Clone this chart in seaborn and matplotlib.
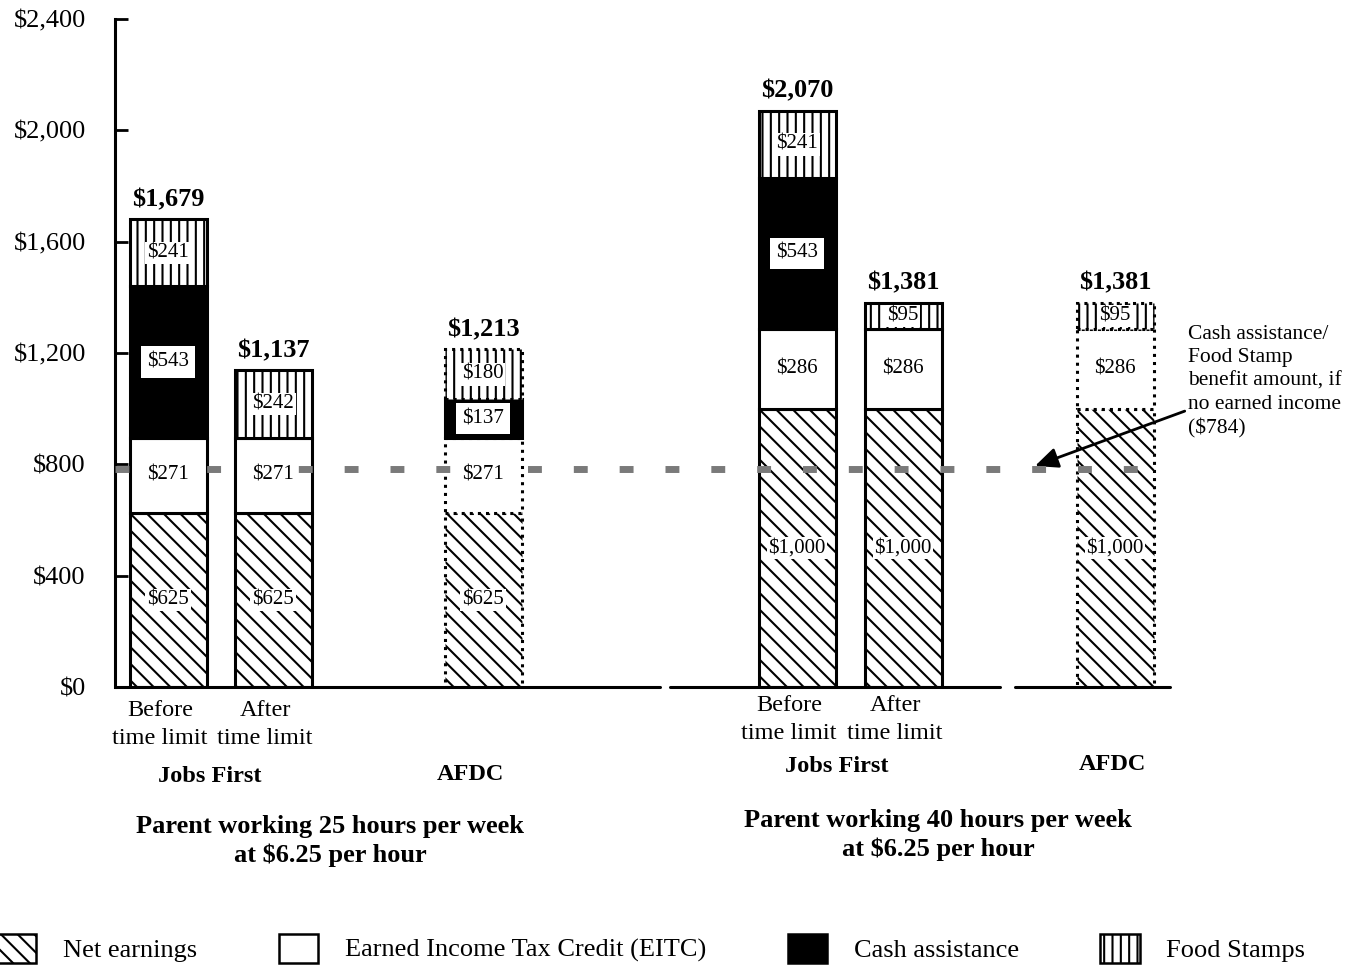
import numpy as np
import matplotlib
matplotlib.use("Agg")
import matplotlib.pyplot as plt
import matplotlib.patches as mpatches
import seaborn as sns

# monthly income by component, one entry per bar
bar_names = ["Before\ntime limit", "After\ntime limit", "", "Before\ntime limit", "After\ntime limit", ""]
net_earnings = [625, 625, 625, 1000, 1000, 1000]
eitc = [271, 271, 271, 286, 286, 286]
cash_assistance = [543, 0, 137, 543, 0, 0]
food_stamps = [241, 242, 180, 241, 95, 95]
totals = [1679, 1137, 1213, 2070, 1381, 1381]
is_afdc = [False, False, True, False, False, True]
no_income_benefit = 784

yticks = [0, 400, 800, 1200, 1600, 2000, 2400]

sns.set_theme(style="ticks")
plt.rcParams["font.family"] = ["Liberation Serif", "DejaVu Serif"]
plt.rcParams["hatch.linewidth"] = 1.5
for k in ["text.color", "axes.labelcolor", "xtick.color", "ytick.color", "axes.edgecolor"]:
    plt.rcParams[k] = "black"

W, H = 1362, 967
fig = plt.figure(figsize=(W / 100, H / 100), dpi=100)
ax = fig.add_axes([115 / W, 1 - 687 / H, (W - 115) / W, (687 - 19) / H])

positions = [53, 158, 368, 682, 788, 1000]
width = 77


def fmt(v):
    return f"${v:,.0f}"


layers = [
    ("Net earnings", net_earnings, "white", "\\\\"),
    ("Earned Income Tax Credit (EITC)", eitc, "white", ""),
    ("Cash assistance", cash_assistance, "black", ""),
    ("Food Stamps", food_stamps, "white", "||"),
]

bottom = np.zeros(len(positions))
for name, vals, color, hatch in layers:
    vals = np.array(vals, dtype=float)
    for i, (x, v) in enumerate(zip(positions, vals)):
        if v <= 0:
            continue
        ls = ":" if (is_afdc[i] and color != "black") else "-"
        ax.bar(x, v, width=width, bottom=bottom[i], color=color, hatch=hatch,
               edgecolor="black", linewidth=2.2, linestyle=ls, zorder=2)
        pad = 0.3 if color == "black" else 0.08
        ax.text(x, bottom[i] + v / 2, fmt(v), ha="center", va="center",
                fontsize=15, zorder=5,
                bbox=dict(boxstyle=f"square,pad={pad}", fc="white", ec="none"))
    bottom += vals

for x, t in zip(positions, totals):
    ax.text(x, t + 30, fmt(t), ha="center", va="bottom", fontsize=19,
            fontweight="bold")

# benefit level with no earned income
ax.axhline(no_income_benefit, xmin=0, xmax=1040 / 1247, color="#7a7a7a",
           linewidth=5, linestyle=(0, (2, 4.6)), zorder=4)
ax.annotate("Cash assistance/\nFood Stamp\nbenefit amount, if\nno earned income\n($784)",
            xy=(920, no_income_benefit + 10), xytext=(1073, 1300),
            ha="left", va="top", fontsize=15.5, linespacing=1.3,
            arrowprops=dict(arrowstyle="-|>,head_length=0.9,head_width=0.4",
                            color="black", lw=2, shrinkA=0, shrinkB=0))

ax.set_xlim(0, W - 115)
ax.set_ylim(0, 2400)
ax.set_yticks(yticks)
ax.set_yticklabels([fmt(v) for v in yticks], fontsize=19)
ax.set_xticks([])
ax.tick_params(axis="y", direction="in", length=9, width=2, pad=21)
sns.despine(ax=ax, top=True, right=True, bottom=True)
ax.spines["left"].set_linewidth(2.2)

# broken baseline
for x0, x1 in [(0, 545), (555, 885), (900, 1055)]:
    ax.plot([x0, x1], [0, 0], color="black", lw=2.2, clip_on=False, zorder=3)

# category labels under the bars
for i, (x, name) in enumerate(zip(positions, bar_names)):
    if name:
        top = 700 if i < 3 else 695
        fig.text((x + 115 - 8) / W, 1 - top / H, name, ha="center", va="top",
                 fontsize=17.5, linespacing=1.45)

group_labels = [
    (210, 777, "Jobs First"), (470, 775, "AFDC"),
    (837, 767, "Jobs First"), (1112, 765, "AFDC"),
]
for x, y, s in group_labels:
    fig.text(x / W, 1 - y / H, s, ha="center", va="center", fontsize=17.5,
             fontweight="bold")

panel_titles = [
    (330, 841, "Parent working 25 hours per week\nat $6.25 per hour"),
    (938, 835, "Parent working 40 hours per week\nat $6.25 per hour"),
]
for x, y, s in panel_titles:
    fig.text(x / W, 1 - y / H, s, ha="center", va="center", fontsize=19,
             fontweight="bold", linespacing=1.3)

handles = [mpatches.Patch(facecolor=c, edgecolor="black", hatch=h, linewidth=1.8,
                          label=n) for n, _, c, h in layers]
fig.legend(handles=handles, loc="lower center", ncol=4, frameon=False,
           bbox_to_anchor=(0.478, -0.02), fontsize=19, handlelength=1.5,
           handleheight=1.3, columnspacing=3.1, handletextpad=1.0)

fig.savefig("out.png", dpi=100)
